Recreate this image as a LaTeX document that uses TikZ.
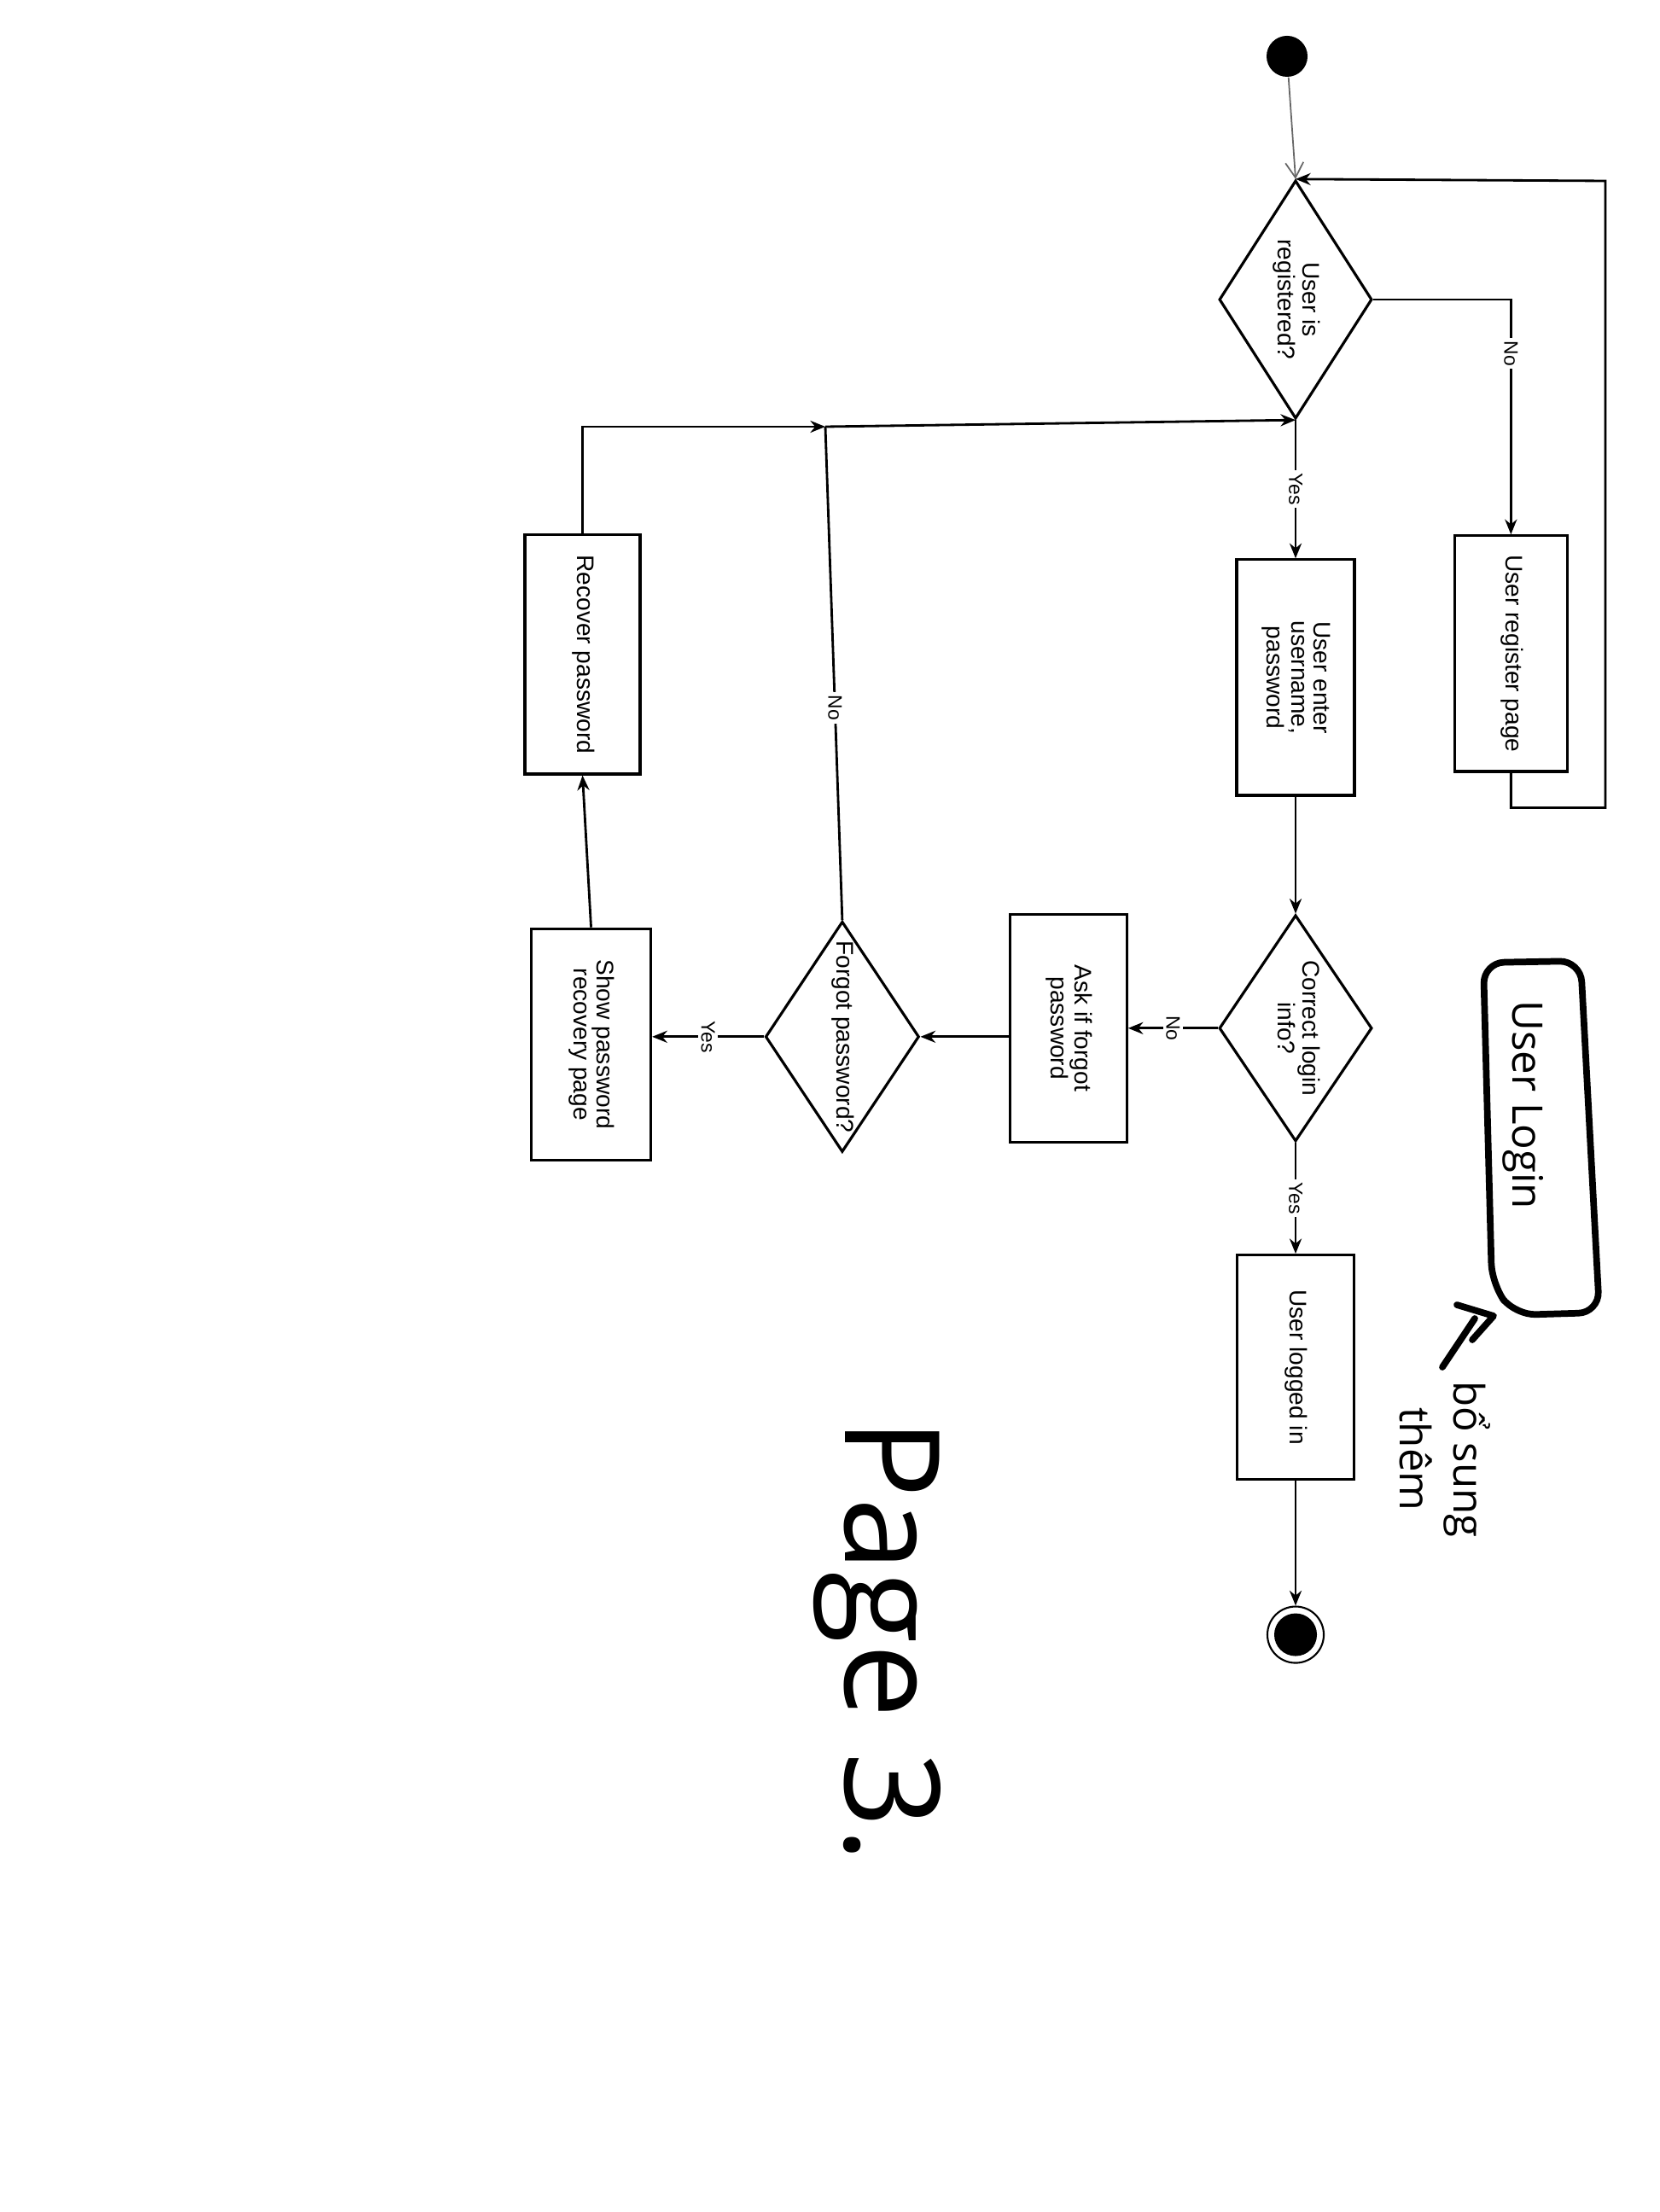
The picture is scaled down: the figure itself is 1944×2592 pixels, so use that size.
\documentclass[tikz,border=0pt]{standalone}
\usepackage{fontspec}
\setmainfont{Liberation Sans}
\newfontfamily\handfont{Open Sans}
\usetikzlibrary{shapes.geometric,arrows.meta,positioning,calc}

\newcommand{\vtext}[1]{\rotatebox[origin=c]{-90}{\def\arraystretch{0.95}\begin{tabular}{@{}c@{}}#1\end{tabular}}}

\tikzset{
    actbox/.style={draw, rectangle, line width=0.9pt, inner sep=0pt, font=\fontsize{8}{8}\selectfont},
    decbox/.style={draw, diamond, aspect=0.67, line width=0.9pt, inner sep=0pt, font=\fontsize{8}{8}\selectfont},
    flow/.style={line width=0.8pt, -{Stealth[length=5pt,width=4pt]}},
    startflow/.style={line width=0.5pt, black!60, -{Straight Barb[length=5pt,width=6pt]}},
    lbl/.style={fill=white, inner sep=1pt, rotate=-90, font=\fontsize{6.5}{6.5}\selectfont},
    hand/.style={line width=2.2pt, line cap=round, line join=round},
}

\begin{document}
\begin{tikzpicture}[x=0.01cm, y=-0.01cm]
    \useasboundingbox (0,0) rectangle (1944,2592);

    % main column
    \node[circle, fill, minimum size=0.48cm, inner sep=0pt] (start) at (1508,66) {};
    \node[decbox, minimum width=1.79cm, minimum height=2.79cm] (d1) at (1518,351) {\vtext{User is\\registered?}};
    \node[actbox, minimum width=1.38cm, minimum height=2.76cm, below=1.62cm of d1] (enter) {\vtext{User enter\\username,\\password}};
    \node[decbox, minimum width=1.79cm, minimum height=2.65cm, below=1.37cm of enter] (d2) {\vtext{Correct login\\info?}};
    \node[actbox, minimum width=1.37cm, minimum height=2.63cm, below=1.30cm of d2] (logged) {\vtext{User logged in}};
    \node[circle, draw, line width=0.6pt, minimum size=0.66cm, inner sep=0pt, below=1.46cm of logged,
          path picture={\fill (path picture bounding box.center) circle (0.25cm);}] (stop) {};

    % register branch
    \node[actbox, minimum width=1.32cm, minimum height=2.76cm, right=1.14cm of enter, yshift=0.28cm] (reg) {\vtext{User register page}};
    \coordinate (loop) at (1881,212);

    % forgot password branch
    \node[actbox, minimum width=1.37cm, minimum height=2.67cm, left=1.05cm of d2] (ask) {\vtext{Ask if forgot\\password}};
    \node[decbox, minimum width=1.80cm, minimum height=2.70cm, left=1.03cm of ask, yshift=-0.1cm] (d3) {\vtext{Forgot password?}};
    \node[actbox, minimum width=1.40cm, minimum height=2.71cm, left=1.31cm of d3, yshift=-0.09cm] (show) {\vtext{Show password\\recovery page}};
    \node[actbox, minimum width=1.35cm, minimum height=2.80cm, above=1.78cm of show, xshift=-0.1cm] (rec) {\vtext{Recover password}};
    \coordinate (junc) at (967,500);

    % connectors
    \draw[startflow] (start) -- (d1.north);
    \draw[flow] (d1.east) -| node[lbl, pos=0.615] {No} (reg.north);
    \draw[flow] (reg.south) -- ++(0,41) -| (loop) -- (d1.north);
    \draw[flow] (d1.south) -- node[lbl] {Yes} (enter.north);
    \draw[flow] (enter.south) -- (d2.north);
    \draw[flow] (d2.south) -- node[lbl] {Yes} (logged.north);
    \draw[flow] (logged.south) -- (stop.north);
    \draw[flow] (d2.west) -- node[lbl] {No} (d2.west -| ask.east);
    \draw[flow] (ask.west |- d3.east) -- (d3.east);
    \draw[flow] (d3.west) -- node[lbl] {Yes} (d3.west -| show.east);
    \draw[flow] (show.north) -- (rec.south);
    \draw[flow] (rec.north) |- (junc);
    \draw[line width=0.8pt] (d3.north) -- node[lbl, pos=0.43] {No} (junc);
    \draw[flow] (junc) -- (d1.south);

    % handwritten notes
    \node[rotate=-90, anchor=base west, font=\handfont\fontsize{14}{14}\selectfont] (title) at (1772,1160) {User Login};
    \draw[hand, rounded corners=7pt] (1738,1128) -- (1852,1126) -- (1874,1538) -- (1775,1541) -- (1748,1505) -- cycle;
    \draw[hand] (1707,1529) -- (1750,1542) -- (1725,1570);
    \draw[hand] (1690,1602) -- (1728,1545);
    \node[rotate=-90, align=center, font=\handfont\fontsize{14}{18}\selectfont] (note) at (1693,1710) {bổ sung\\thêm};
    \node[rotate=-90, anchor=base west, font=\handfont\fontsize{44}{44}\selectfont] (page) at (990,1650) {Page 3.};
\end{tikzpicture}
\end{document}
